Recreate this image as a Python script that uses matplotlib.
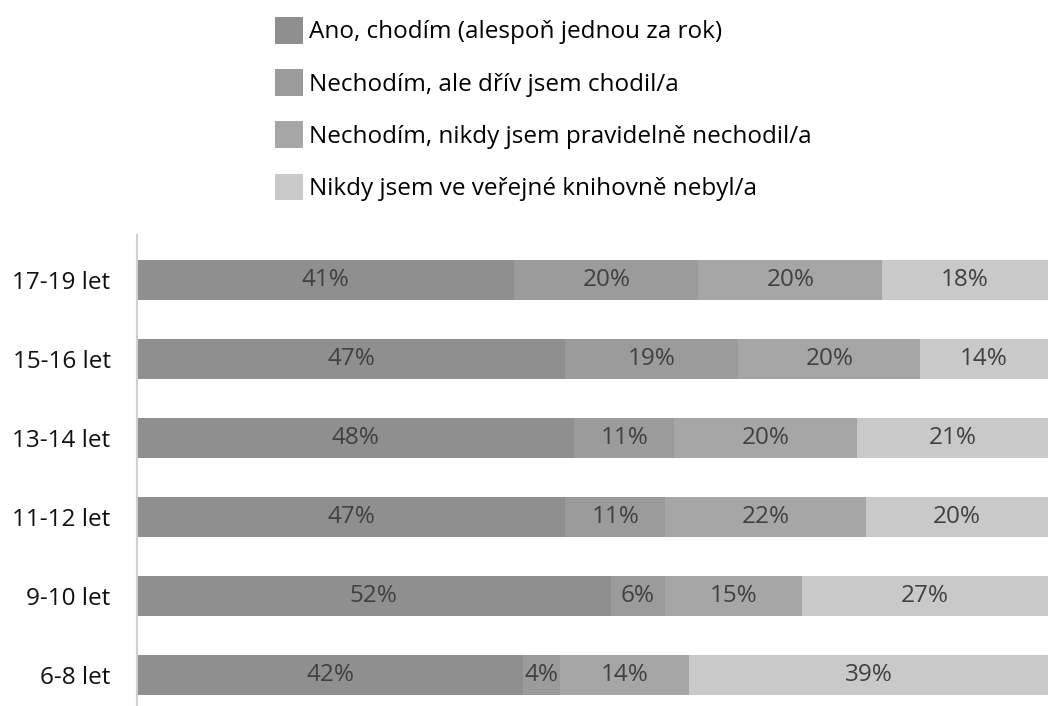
import matplotlib.pyplot as plt
import numpy as np

# data
groups = ["6-8 let", "9-10 let", "11-12 let", "13-14 let", "15-16 let", "17-19 let"]
series_names = ["Ano, chodím (alespoň jednou za rok)",
                "Nechodím, ale dřív jsem chodil/a",
                "Nechodím, nikdy jsem pravidelně nechodil/a",
                "Nikdy jsem ve veřejné knihovně nebyl/a"]
ano = [42, 52, 47, 48, 47, 41]
drive = [4, 6, 11, 11, 19, 20]
nikdy_prav = [14, 15, 22, 20, 20, 20]
nikdy = [39, 27, 20, 21, 14, 18]

colors = ["#8f8f8f", "#9b9b9b", "#a6a6a6", "#c9c9c9"]
txt_color = "#404040"

plt.rcParams['font.family'] = ['Open Sans', 'DejaVu Sans']

values = np.array([ano, drive, nikdy_prav, nikdy], dtype=float)
shares = values / values.sum(axis=0) * 100  # 100% stacked

fig = plt.figure(figsize=(10.52, 7.06), dpi=100)
ax = fig.add_axes([137 / 1052, 0, (1048 - 137) / 1052, 1 - 235 / 706])

y = np.arange(len(groups))
left = np.zeros(len(groups))
for i, name in enumerate(series_names):
    ax.barh(y, shares[i], left=left, height=0.5, color=colors[i], label=name)
    for j in range(len(groups)):
        ax.text(left[j] + shares[i][j] / 2, y[j], "%d%%" % values[i][j],
                ha="center", va="center", fontsize=17.5, color=txt_color)
    left += shares[i]

ax.set_xlim(0, 100)
ax.set_ylim(-0.39, 5.57)
ax.set_yticks(y)
ax.set_yticklabels(groups, fontsize=17.5, color="#111111")
ax.set_xticks([])
ax.tick_params(axis="y", length=0, pad=19)
for s in ["top", "right", "bottom"]:
    ax.spines[s].set_visible(False)
ax.spines["left"].set_color("#d0d0d0")
ax.spines["left"].set_linewidth(1.5)

fig.legend(loc="upper left", bbox_to_anchor=(258 / 1052, 1.0), frameon=False,
           fontsize=17.5, handlelength=1.15, handleheight=1.3, handletextpad=0.25,
           labelspacing=1.02, borderaxespad=0.3)

fig.savefig("out.png", dpi=100, facecolor="white")
